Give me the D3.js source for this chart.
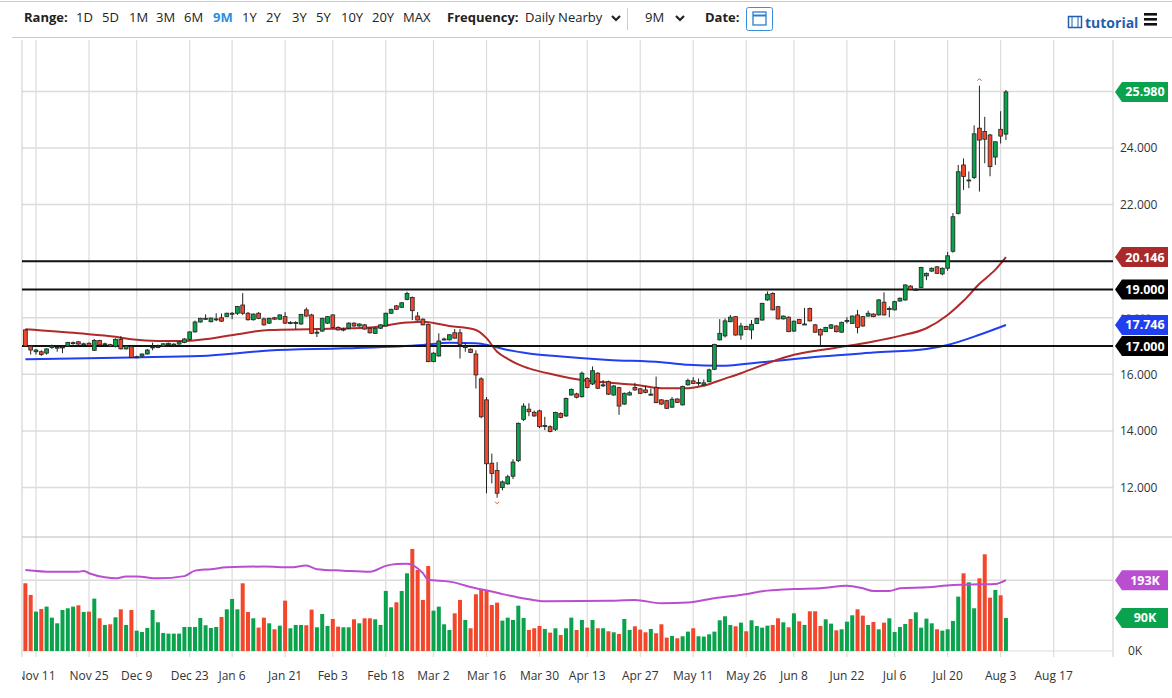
<!DOCTYPE html>
<html><head><meta charset="utf-8">
<script src="https://cdn.jsdelivr.net/npm/d3@7/dist/d3.min.js"></script>
<style>body{margin:0;background:#fff;font-family:"Open Sans",sans-serif}</style>
</head><body><svg id="c" width="1172" height="698"></svg>
<script>
// ---------- DATA ----------
const ohlc = [
[17.57,17.6,17.0,17.0],[17.0,17.02,16.7,16.86],[16.8,16.9,16.7,16.86],[16.8,16.85,16.65,16.7],[16.75,16.92,16.7,16.9],
[16.95,17.05,16.9,17.0],[16.95,17.0,16.8,16.96],[16.97,17.02,16.75,16.97],[17.0,17.15,16.98,17.13],[17.12,17.16,17.05,17.12],
[17.15,17.18,17.05,17.07],[17.08,17.12,17.02,17.08],[17.1,17.13,17.0,17.02],[16.85,17.25,16.83,17.2],[17.2,17.22,17.0,17.04],
[17.08,17.12,17.0,17.08],[17.05,17.08,16.98,17.0],[16.98,17.27,16.95,17.24],[17.24,17.35,16.88,16.9],[16.9,17.02,16.88,17.0],
[16.98,17.0,16.58,16.6],[16.62,16.66,16.58,16.62],[16.65,16.74,16.6,16.72],[16.72,16.9,16.7,16.86],[16.97,17.12,16.85,16.97],
[16.98,17.05,16.93,16.98],[17.0,17.1,16.98,17.08],[17.05,17.12,17.03,17.1],[17.07,17.1,17.02,17.07],[17.07,17.17,17.05,17.15],
[17.13,17.28,17.1,17.25],[17.23,17.52,17.2,17.5],[17.5,17.9,17.48,17.85],[17.85,18.0,17.83,17.98],[17.98,18.12,17.93,17.98],
[17.86,18.0,17.84,17.99],[17.96,18.16,17.88,17.96],[18.0,18.15,17.85,17.88],[18.05,18.18,18.02,18.16],[18.16,18.2,17.95,18.16],
[18.16,18.42,18.1,18.4],[18.45,18.87,18.1,18.16],[18.16,18.2,17.9,17.93],[17.93,18.15,17.9,18.13],[18.16,18.2,17.95,17.98],
[17.96,18.0,17.72,17.75],[17.81,18.0,17.78,17.98],[18.0,18.03,17.93,17.95],[17.95,18.12,17.93,18.1],[18.04,18.2,17.78,17.81],
[17.83,17.88,17.77,17.83],[17.83,17.88,17.6,17.83],[17.78,18.14,17.75,18.12],[18.28,18.36,18.04,18.06],[18.1,18.14,17.43,17.45],
[17.49,17.58,17.32,17.49],[17.53,18.0,17.5,17.98],[17.81,18.06,17.78,18.04],[18.1,18.12,17.63,17.66],[17.66,17.7,17.55,17.57],
[17.6,17.65,17.52,17.6],[17.63,17.84,17.6,17.81],[17.81,17.84,17.68,17.71],[17.71,17.8,17.68,17.78],[17.75,17.78,17.58,17.6],
[17.63,17.66,17.44,17.47],[17.45,17.65,17.43,17.63],[17.63,17.77,17.6,17.75],[17.71,18.18,17.69,18.16],[18.16,18.32,18.14,18.3],
[18.42,18.45,18.28,18.3],[18.37,18.55,18.35,18.53],[18.65,18.92,18.62,18.86],[18.72,18.75,17.92,18.25],[18.06,18.2,17.9,17.92],
[17.95,17.98,17.73,17.75],[17.77,17.8,16.43,16.45],[16.45,16.78,16.43,16.75],[16.65,17.45,16.63,17.18],[17.25,17.3,17.2,17.25],
[17.22,17.42,17.2,17.4],[17.47,17.6,17.26,17.28],[17.47,17.6,16.56,17.06],[16.98,17.12,16.8,16.98],[16.89,16.92,16.75,16.77],
[16.72,16.85,15.5,15.98],[15.84,15.9,14.45,14.5],[15.1,15.2,11.8,12.84],[12.86,13.2,12.15,12.5],[12.6,12.9,11.64,11.8],
[12.0,12.25,11.9,12.2],[12.13,12.45,12.1,12.38],[12.4,13.0,12.3,12.9],[12.95,14.3,12.9,14.27],[14.41,14.98,14.35,14.88],
[14.77,14.98,14.52,14.68],[14.66,14.72,14.5,14.53],[14.71,14.75,14.1,14.15],[14.19,14.5,14.03,14.19],[14.15,14.2,13.95,13.98],
[14.06,14.68,14.0,14.65],[14.62,14.66,14.45,14.48],[14.53,15.18,14.5,15.15],[15.27,15.5,15.25,15.47],[15.31,15.35,15.15,15.19],
[15.21,16.1,15.18,16.04],[15.86,15.9,15.5,15.54],[15.66,16.28,15.62,16.13],[16.04,16.08,15.48,15.51],[15.63,15.8,15.55,15.63],
[15.74,15.78,15.27,15.3],[15.27,15.62,15.25,15.59],[15.53,15.56,14.57,14.88],[14.95,15.36,14.92,15.33],[15.27,15.4,15.25,15.35],
[15.54,15.7,15.42,15.45],[15.49,15.52,15.3,15.33],[15.45,15.6,15.33,15.36],[15.3,15.5,15.25,15.3],[15.54,15.92,14.98,15.0],
[15.1,15.12,14.92,14.95],[15.07,15.1,14.78,14.8],[14.84,15.2,14.82,15.12],[15.13,15.15,14.99,15.01],[14.92,15.6,14.9,15.57],
[15.63,15.85,15.6,15.78],[15.77,15.9,15.66,15.68],[15.71,15.85,15.6,15.71],[15.63,15.82,15.6,15.7],[15.74,16.2,15.72,16.16],
[16.18,17.08,16.15,17.06],[17.22,17.95,17.2,17.45],[17.36,17.98,17.3,17.89],[17.86,18.1,17.84,18.02],[18.04,18.06,17.37,17.39],
[17.39,17.82,17.22,17.71],[17.69,17.72,17.57,17.59],[17.57,17.92,17.24,17.77],[17.8,18.0,17.78,17.98],[17.92,18.53,17.9,18.51],
[18.63,18.93,18.6,18.83],[18.86,18.9,18.26,18.28],[18.39,18.42,17.94,17.96],[17.96,18.08,17.94,18.06],[18.02,18.05,17.49,17.51],
[17.53,17.9,17.5,17.88],[17.94,17.96,17.78,17.8],[17.78,18.35,17.75,17.78],[18.33,18.36,17.87,17.89],[17.75,17.78,17.47,17.49],
[17.59,17.62,17.0,17.39],[17.51,17.68,17.49,17.66],[17.63,17.78,17.6,17.75],[17.71,17.74,17.48,17.51],[17.49,17.86,17.47,17.84],
[17.9,18.02,17.8,17.9],[17.8,18.08,17.78,18.06],[18.1,18.28,17.45,17.66],[18.04,18.06,17.68,17.71],[18.06,18.25,18.04,18.16],
[18.13,18.16,18.02,18.04],[18.1,18.66,18.08,18.63],[18.55,18.9,18.08,18.1],[18.33,18.4,18.02,18.33],[18.28,18.6,18.26,18.57],
[18.59,18.72,18.57,18.69],[18.63,19.18,18.6,19.16],[19.12,19.15,18.98,19.0],[19.0,19.05,18.95,19.0],[19.07,19.8,19.05,19.78],
[19.48,19.6,19.33,19.57],[19.65,19.78,19.62,19.75],[19.8,19.83,19.55,19.57],[19.55,19.78,19.5,19.75],[19.75,20.33,19.66,20.19],
[20.35,21.7,20.3,21.57],[21.69,23.4,21.65,23.16],[23.4,23.63,22.52,22.99],[22.87,23.17,22.58,22.87],[22.96,24.8,22.9,24.5],
[24.7,26.2,22.46,24.28],[24.58,25.1,23.46,24.31],[24.46,24.5,23.0,23.34],[23.68,24.22,23.4,24.22],[24.66,25.3,24.16,24.42],
[24.49,26.05,24.28,25.98]
];
const volumeK = [
184.5,152.7,107.3,114.5,120.9,90.9,75.5,111.8,116.4,120.9,
124.5,106.4,107.3,142.7,89.1,71,72.8,91.8,113.6,71,
111.8,55.5,51.9,62.8,111.8,78.2,49.2,47.4,47.4,47.4,
65.5,65.5,65.5,90,70.1,62.8,65.5,92.7,113.6,141.8,
113.6,184.5,106.4,89.1,63.7,90.9,75.5,59.2,69.1,137.2,
61.9,71,71,70.1,112.7,64.6,100.9,68.2,87.3,66.4,
64.6,64.6,86.4,75.5,89.1,89.1,86.4,71,163.6,119.1,
132.7,163.6,211.7,278,220.8,139.1,231.7,110,120.9,72.8,
57.3,102.7,139.1,84.6,61.9,154.5,168.1,166.3,125.4,131.8,
82.8,90.9,84.6,123.6,
90,57.3,61.9,68.2,60.1,50.1,61.9,43.7,61.9,90.9,
57.3,84.6,63.7,84.6,61.9,62,53.7,51,46.4,87.3,57.3,
67.3,58.3,51,60.1,48.3,72.8,36.5,41,34.6,40.1,
52.8,61.9,40.1,39.2,45.5,52.8,83.7,94.6,71,67.3,
77.3,53.7,83.7,68.2,63.7,69.1,71,89.1,78.2,64.6,
102.7,80.9,71,108.2,108.2,68.2,86.4,74.6,56.4,59.2,
80,97.3,113.6,96.4,71,79.1,59.2,77.3,89.1,51.9,
65.5,73.7,87.3,105.5,63.7,88.2,75.5,59.2,55.5,59.2,
81.9,148.1,211.7,187.2,116.4,198.1,263.5,145.4,166.3,151.8,
90
];
// sampled moving averages [trading-day index, value]
const ma50 = [[0,17.59],[10,17.45],[17,17.33],[20,17.24],[25,17.18],[30,17.18],[33,17.22],[40,17.42],[46,17.57],[55,17.6],[65,17.66],[72,17.83],[75,17.86],[80,17.71],[85,17.57],[87,17.28],[89,16.8],[91,16.55],[93,16.35],[95,16.21],[100,15.98],[105,15.8],[110,15.71],[115,15.63],[120,15.51],[125,15.51],[128,15.6],[132,15.85],[135,16.04],[140,16.39],[145,16.69],[150,16.86],[155,17.0],[160,17.16],[165,17.36],[170,17.63],[174,18.1],[177,18.6],[180,19.2],[183,19.7],[185,20.146]];
const ma200 = [[0,16.53],[20,16.6],[33,16.65],[46,16.84],[60,16.92],[75,17.04],[80,17.12],[85,17.1],[88,17.0],[91,16.86],[95,16.74],[100,16.65],[110,16.51],[120,16.43],[125,16.34],[131,16.3],[140,16.45],[150,16.63],[160,16.77],[170,16.9],[174,17.04],[180,17.4],[185,17.746]];
const volAvg = [[0,221],[5,216],[10,216],[11,218],[12,212],[15,201],[17,198],[19,203],[21,203],[25,198],[30,204],[32,219],[35,223],[38,228],[45,230],[50,228],[53,233],[55,223],[60,219],[65,216],[68,232],[70,237],[72,238],[75,212],[76,194],[80,189],[85,171],[88,162],[90,155],[93,146],[95,141],[98,135.4],[105,136.3],[110,137],[115,139],[120,130],[125,132],[130,144],[135,152.7],[140,164.5],[145,169],[150,171],[155,178],[158,171],[160,163.6],[163,163.6],[165,171],[170,173.6],[175,180],[180,181.7],[183,182.6],[185,193]];
const levels = [17,19,20];
const priceTicks = [12,14,16,18,22,24];
const tickDates = ["2019-11-11","2019-11-25","2019-12-09","2019-12-23","2020-01-06","2020-01-21","2020-02-03","2020-02-18","2020-03-02","2020-03-16","2020-03-30","2020-04-13","2020-04-27","2020-05-11","2020-05-26","2020-06-08","2020-06-22","2020-07-06","2020-07-20","2020-08-03","2020-08-17"];
const tickLabels = ["Nov 11","Nov 25","Dec 9","Dec 23","Jan 6","Jan 21","Feb 3","Feb 18","Mar 2","Mar 16","Mar 30","Apr 13","Apr 27","May 11","May 26","Jun 8","Jun 22","Jul 6","Jul 20","Aug 3","Aug 17"];
const holidays = ["2019-11-28","2019-12-25","2020-01-01","2020-01-20","2020-02-17","2020-04-10","2020-05-25","2020-07-03"];

// trading-day calendar
const days = [];
for (let d = new Date(Date.UTC(2019,10,7)); d <= new Date(Date.UTC(2020,7,31)); d = new Date(d.getTime()+864e5)) {
  const w = d.getUTCDay(), s = d.toISOString().slice(0,10);
  if (w>0 && w<6 && !holidays.includes(s)) days.push(s);
}
const idxOf = s => days.indexOf(s);

// ---------- DRAW ----------
const svg = d3.select("#c");
const L = 22, R = 1113, PT = 40, PB = 536, VT = 538, VB = 657;
const x = d3.scaleLinear().domain([-0.64, 205.2]).range([L, R]);
const y = d3.scaleLinear().domain([27.816, 10.5]).range([PT, 530]);
const yv = d3.scaleLinear().domain([0, 300]).range([651, 540.9]);
const GREEN = "#0aa24c", RED = "#f2472a", grid = "#dcdcdc";

// toolbar
svg.append("line").attr("x1",0).attr("x2",1172).attr("y1",1.5).attr("y2",1.5).attr("stroke","#ccc");
svg.append("line").attr("x1",12).attr("x2",1172).attr("y1",37.5).attr("y2",37.5).attr("stroke","#ccc");
const tb = svg.append("g").attr("font-size",13).attr("fill","#222");
tb.append("text").attr("x",24).attr("y",22).attr("font-weight","bold").text("Range:");
[["1D",76],["5D",102],["1M",129],["3M",156],["6M",184],["9M",213],["1Y",242],["2Y",266],["3Y",292],["5Y",316],["10Y",341],["20Y",372],["MAX",403]].forEach(([t,px])=>{
  tb.append("text").attr("x",px).attr("y",22).attr("fill",t==="9M"?"#2a8fe0":"#222").attr("font-weight",t==="9M"?"bold":"normal").text(t);
});
tb.append("text").attr("x",447).attr("y",22).attr("font-weight","bold").text("Frequency:");
tb.append("text").attr("x",525).attr("y",22).text("Daily Nearby");
const chev = cx => svg.append("path").attr("d",`M${cx-4},16 L${cx},20 L${cx+4},16`).attr("fill","none").attr("stroke","#222").attr("stroke-width",2.2);
chev(616); chev(680);
svg.append("line").attr("x1",627.5).attr("x2",627.5).attr("y1",8).attr("y2",30).attr("stroke","#ccc");
tb.append("text").attr("x",645).attr("y",22).text("9M");
tb.append("text").attr("x",705).attr("y",22).attr("font-weight","bold").text("Date:");
svg.append("rect").attr("x",746.5).attr("y",7.5).attr("width",26).attr("height",23).attr("fill","#fff").attr("stroke","#3a8ee0").attr("rx",2);
svg.append("rect").attr("x",753).attr("y",12).attr("width",13).attr("height",13).attr("fill","none").attr("stroke","#2a7fd0").attr("stroke-width",1.3);
svg.append("line").attr("x1",753).attr("x2",766).attr("y1",15.5).attr("y2",15.5).attr("stroke","#2a7fd0").attr("stroke-width",2);
svg.append("rect").attr("x",1068.5).attr("y",16.5).attr("width",13).attr("height",11).attr("fill","none").attr("stroke","#1f5fae").attr("stroke-width",1.5);
svg.append("line").attr("x1",1072).attr("x2",1072).attr("y1",17).attr("y2",27).attr("stroke","#1f5fae");
svg.append("line").attr("x1",1078).attr("x2",1078).attr("y1",17).attr("y2",27).attr("stroke","#1f5fae");
svg.append("text").attr("x",1085).attr("y",28).attr("font-size",14).attr("font-weight","bold").attr("fill","#1f5fae").text("tutorial");
[13,18,23].forEach(v=>svg.append("rect").attr("x",1144).attr("y",v).attr("width",13).attr("height",2.6).attr("fill","#111"));

// grid
const gx = svg.append("g");
tickDates.forEach(s=>{
  const xi = x(idxOf(s));
  gx.append("line").attr("x1",xi).attr("x2",xi).attr("y1",PT).attr("y2",VB).attr("stroke",grid).attr("stroke-width",1.2);
});
[12,14,16,18,20,22,24,26].forEach(p=>gx.append("line").attr("x1",L).attr("x2",R).attr("y1",y(p)).attr("y2",y(p)).attr("stroke",grid).attr("stroke-width",1.5));
gx.append("line").attr("x1",L).attr("x2",R).attr("y1",yv(193)).attr("y2",yv(193)).attr("stroke",grid).attr("stroke-width",1.5);
gx.append("line").attr("x1",L).attr("x2",1172).attr("y1",VT-1).attr("y2",VT-1).attr("stroke","#bbb");
gx.append("line").attr("x1",L).attr("x2",R).attr("y1",VB-6).attr("y2",VB-6).attr("stroke",grid);
gx.append("line").attr("x1",R).attr("x2",R).attr("y1",PT).attr("y2",VB).attr("stroke","#ccc");
gx.append("line").attr("x1",L).attr("x2",L).attr("y1",PT).attr("y2",VB).attr("stroke","#ccc");

// price ticks (18.000 sits partly hidden behind the 17.746 tag, as in the reference)
priceTicks.forEach(p=>svg.append("text").attr("x",1120).attr("y",y(p)+4.5).attr("font-size",p===18?10:12).attr("fill",p===18?"#999":"#333").text(d3.format(".3f")(p)));

// volumes
svg.append("g").selectAll("rect").data(volumeK).join("rect")
  .attr("x",(v,i)=>x(i)-2).attr("width",4)
  .attr("y",v=>yv(v)).attr("height",v=>yv(0)-yv(v))
  .attr("fill",(v,i)=>ohlc[i][3]>=ohlc[i][0]?GREEN:RED);
svg.append("path").datum(volAvg).attr("fill","none").attr("stroke","#b94fd0").attr("stroke-width",2)
  .attr("d",d3.line().x(d=>x(d[0])).y(d=>yv(d[1])).curve(d3.curveMonotoneX));

// MAs
const ml = d3.line().x(d=>x(d[0])).y(d=>y(d[1])).curve(d3.curveMonotoneX);
svg.append("path").datum(ma200).attr("fill","none").attr("stroke","#1f3ff0").attr("stroke-width",2).attr("d",ml);
svg.append("path").datum(ma50).attr("fill","none").attr("stroke","#b02a2a").attr("stroke-width",2).attr("d",ml);

// levels
levels.forEach(p=>svg.append("line").attr("x1",L).attr("x2",R).attr("y1",y(p)).attr("y2",y(p)).attr("stroke","#111").attr("stroke-width",2));

// candles
const cg = svg.append("g");
ohlc.forEach((d,i)=>{
  const [o,h,l,c] = d, cx = x(i);
  cg.append("line").attr("x1",cx).attr("x2",cx).attr("y1",y(h)).attr("y2",y(l)).attr("stroke","#222").attr("stroke-width",1);
  const top = y(Math.max(o,c)), bot = y(Math.min(o,c));
  cg.append("rect").attr("x",cx-1.9).attr("width",3.8).attr("y",top).attr("height",Math.max(1,bot-top))
    .attr("fill",c>=o?GREEN:RED).attr("stroke","#222").attr("stroke-width",0.8);
});
const hiI = d3.maxIndex(ohlc,d=>d[1]), loI = d3.minIndex(ohlc,d=>d[2]);
svg.append("path").attr("d",`M${x(hiI)-2},${y(ohlc[hiI][1])-5} l2,-2 l2,2`).attr("fill","none").attr("stroke",RED);
svg.append("path").attr("d",`M${x(loI)-2},${y(ohlc[loI][2])+4} l2,2 l2,-2`).attr("fill","none").attr("stroke",RED);

// right labels
function tag(yy, txt, col){
  svg.append("path").attr("d",`M1115,${yy} L1122,${yy-10} L1168,${yy-10} L1168,${yy+10} L1122,${yy+10} Z`).attr("fill",col);
  svg.append("text").attr("x",1145).attr("y",yy+4.5).attr("text-anchor","middle").attr("font-size",12.5).attr("font-weight","bold").attr("fill","#fff").text(txt);
}
const last = ohlc[ohlc.length-1][3];
tag(y(last), d3.format(".3f")(last), "#0aa24c");
tag(y(ma50[ma50.length-1][1]), d3.format(".3f")(ma50[ma50.length-1][1]), "#a82a2a");
tag(y(19), "19.000", "#000");
tag(y(ma200[ma200.length-1][1]), d3.format(".3f")(ma200[ma200.length-1][1]), "#1f3ff0");
tag(y(17), "17.000", "#000");
tag(yv(193), "193K", "#b94fd0");
tag(yv(volumeK[volumeK.length-1]), "90K", "#0aa24c");
svg.append("text").attr("x",1128).attr("y",yv(0)+4).attr("font-size",12).attr("fill","#333").text("0K");

// x labels
svg.append("clipPath").attr("id","cl").append("rect").attr("x",L).attr("y",660).attr("width",1100).attr("height",30);
const xl = svg.append("g").attr("clip-path","url(#cl)");
tickDates.forEach((s,k)=>xl.append("text").attr("x",x(idxOf(s))).attr("y",680).attr("text-anchor","middle").attr("font-size",12).attr("fill","#333").text(tickLabels[k]));
</script></body></html>
